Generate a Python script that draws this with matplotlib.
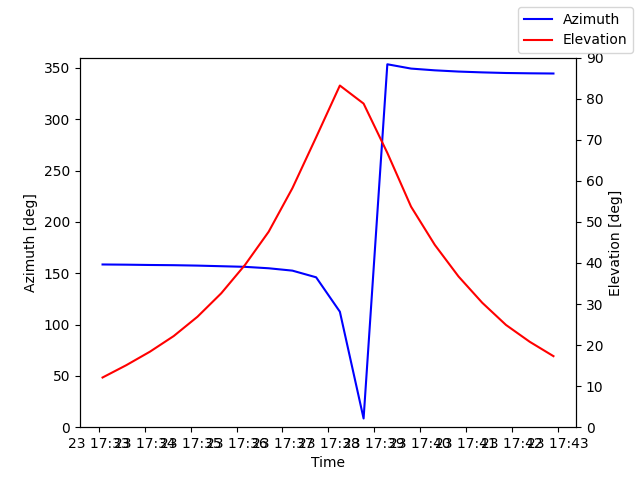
import pandas as pd
import matplotlib
matplotlib.use('Agg')
import matplotlib.pyplot as plt

# Pass samples, ~31 s apart
start = pd.Timestamp('2023-05-23 17:33:05')
n_points = 20
times = pd.date_range(start, periods=n_points, freq='31s')

azimuth = [158.5, 158.3, 158.0, 157.8, 157.4, 156.8, 156.2, 154.8, 152.5, 146.0,
           112.5, 8.5, 353.5, 349.3, 347.6, 346.4, 345.6, 345.0, 344.7, 344.5]
elevation = [12.1, 15.1, 18.4, 22.2, 26.9, 32.6, 39.5, 47.6, 58.2, 70.6,
             83.2, 78.8, 66.8, 53.7, 44.4, 36.7, 30.3, 24.9, 20.8, 17.3]

fig, ax1 = plt.subplots(figsize=(6.4, 4.8), dpi=100)
ax2 = ax1.twinx()

ax1.plot(times, azimuth, color='blue', label='Azimuth')
ax2.plot(times, elevation, color='red', label='Elevation')

ax1.set_ylim(0, 360)
ax2.set_ylim(0, 90)
ax1.set_xlabel('Time')
ax1.set_ylabel('Azimuth [deg]')
ax2.set_ylabel('Elevation [deg]')

fig.legend(loc='upper right')

plt.savefig('out.png')
